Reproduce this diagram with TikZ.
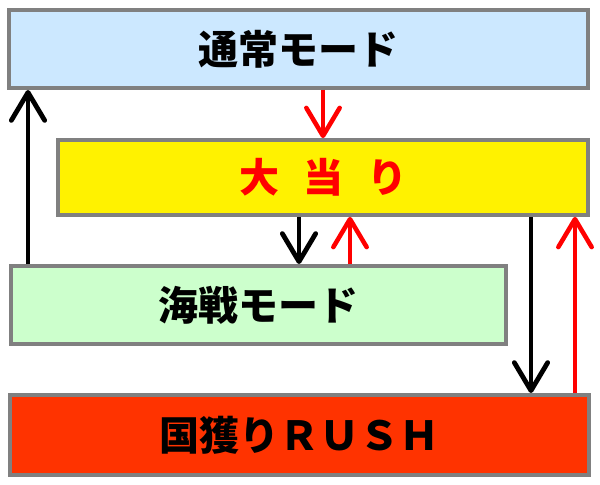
\documentclass[tikz,border=0pt]{standalone}
\usepackage{fontspec}
\usepackage{tikz}
\usetikzlibrary{arrows.meta}
\newfontfamily\jpfont{Noto Sans CJK JP}[BoldFont={Noto Sans CJK JP Black}]
\definecolor{modeblue}{HTML}{CCE8FF}
\definecolor{modegreen}{HTML}{CCFFCC}
\definecolor{rushred}{HTML}{FF3300}
\definecolor{boxgray}{HTML}{808080}

\begin{document}
\begin{tikzpicture}[x=0.75pt,y=-0.75pt,
  box/.style={draw=boxgray,line width=3pt,inner sep=0pt,font=\jpfont\bfseries\fontsize{30pt}{30pt}\selectfont},
  blk/.style={line width=3.6pt,black,-{Straight Barb[length=21pt,width=25pt,round]}},
  redarr/.style={line width=3.4pt,red,-{Straight Barb[length=21pt,width=25pt,round]}}]
\useasboundingbox (0,0) rectangle (600,485);

\node[box,fill=modeblue,minimum width=434pt,minimum height=58.5pt] (normal) at (298.5,49) {通常モード};
\node[box,fill=yellow,text=red,minimum width=397.5pt,minimum height=56pt] (hit) at (323,177.5) {大\hspace{18pt}当\hspace{18pt}り};
\node[box,fill=modegreen,minimum width=371pt,minimum height=58.5pt] (battle) at (258.5,305) {海戦モード};
\node[box,fill=rushred,minimum width=434pt,minimum height=60pt] (rush) at (299.5,435) {国獲りＲＵＳＨ};

\coordinate (c1) at (28,0);
\coordinate (c2) at (323,0);
\coordinate (c3) at (299,0);
\coordinate (c4) at (350,0);
\coordinate (c5) at (531,0);
\coordinate (c6) at (575,0);

\draw[blk] (battle.north -| c1) -- (normal.south -| c1);
\draw[redarr] (normal.south -| c2) -- (hit.north -| c2);
\draw[blk] (hit.south -| c3) -- (battle.north -| c3);
\draw[redarr] (battle.north -| c4) -- (hit.south -| c4);
\draw[blk] (hit.south -| c5) -- (rush.north -| c5);
\draw[redarr] (rush.north -| c6) -- (hit.south -| c6);
\end{tikzpicture}
\end{document}
